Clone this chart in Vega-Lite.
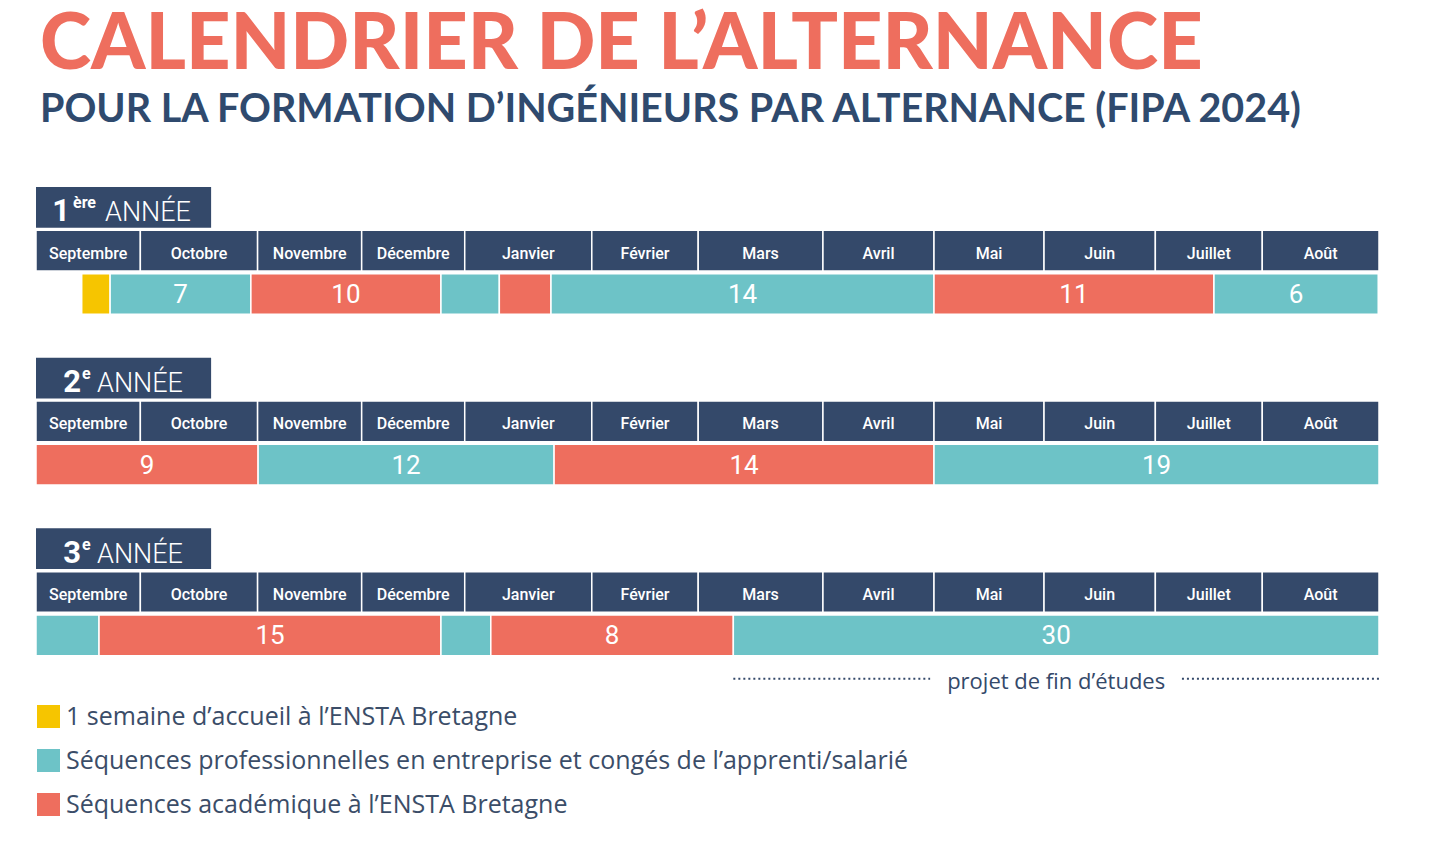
{
  "$schema": "https://vega.github.io/schema/vega-lite/v6.json",
  "autosize": {"type": "none"},
  "width": 1343,
  "height": 512,
  "padding": {"left": 36, "top": 187, "right": 60, "bottom": 142},
  "background": "white",
  "title": {
    "text": "CALENDRIER DE L’ALTERNANCE",
    "subtitle": "POUR LA FORMATION D’INGÉNIEURS PAR ALTERNANCE (FIPA 2024)",
    "anchor": "start",
    "frame": "group",
    "dx": 4,
    "offset": 57,
    "font": "Lato",
    "fontSize": 77.5,
    "fontWeight": 900,
    "color": "#ee6e5e",
    "subtitleFont": "Lato",
    "subtitleFontSize": 39.5,
    "subtitleFontWeight": 700,
    "subtitleColor": "#2f4a6e",
    "subtitlePadding": 5
  },
  "config": {
    "view": {"stroke": null},
    "legend": {
      "orient": "none",
      "legendX": 0,
      "legendY": 517,
      "title": null,
      "padding": 0,
      "symbolType": "square",
      "symbolSize": 529,
      "symbolStrokeWidth": 0,
      "symbolOpacity": 1,
      "labelFont": "Open Sans",
      "labelFontSize": 25,
      "labelColor": "#3b4d68",
      "labelOffset": 5,
      "labelLimit": 0,
      "rowPadding": 18
    }
  },
  "datasets": {
    "annees": [
      {"annee": "1", "partie": "titre", "num": "1", "sup": "ère", "libelle": "ANNÉE"},
      {"annee": "2", "partie": "titre", "num": "2", "sup": "e", "libelle": "ANNÉE"},
      {"annee": "3", "partie": "titre", "num": "3", "sup": "e", "libelle": "ANNÉE"}
    ],
    "mois": [
      {"annee": "1", "partie": "mois", "mois": "Septembre", "debut": 0, "fin": 4.04},
      {"annee": "1", "partie": "mois", "mois": "Octobre", "debut": 4.04, "fin": 8.58},
      {"annee": "1", "partie": "mois", "mois": "Novembre", "debut": 8.58, "fin": 12.61},
      {"annee": "1", "partie": "mois", "mois": "Décembre", "debut": 12.61, "fin": 16.6},
      {"annee": "1", "partie": "mois", "mois": "Janvier", "debut": 16.6, "fin": 21.52},
      {"annee": "1", "partie": "mois", "mois": "Février", "debut": 21.52, "fin": 25.64},
      {"annee": "1", "partie": "mois", "mois": "Mars", "debut": 25.64, "fin": 30.47},
      {"annee": "1", "partie": "mois", "mois": "Avril", "debut": 30.47, "fin": 34.77},
      {"annee": "1", "partie": "mois", "mois": "Mai", "debut": 34.77, "fin": 39.03},
      {"annee": "1", "partie": "mois", "mois": "Juin", "debut": 39.03, "fin": 43.34},
      {"annee": "1", "partie": "mois", "mois": "Juillet", "debut": 43.34, "fin": 47.48},
      {"annee": "1", "partie": "mois", "mois": "Août", "debut": 47.48, "fin": 52},
      {"annee": "2", "partie": "mois", "mois": "Septembre", "debut": 0, "fin": 4.04},
      {"annee": "2", "partie": "mois", "mois": "Octobre", "debut": 4.04, "fin": 8.58},
      {"annee": "2", "partie": "mois", "mois": "Novembre", "debut": 8.58, "fin": 12.61},
      {"annee": "2", "partie": "mois", "mois": "Décembre", "debut": 12.61, "fin": 16.6},
      {"annee": "2", "partie": "mois", "mois": "Janvier", "debut": 16.6, "fin": 21.52},
      {"annee": "2", "partie": "mois", "mois": "Février", "debut": 21.52, "fin": 25.64},
      {"annee": "2", "partie": "mois", "mois": "Mars", "debut": 25.64, "fin": 30.47},
      {"annee": "2", "partie": "mois", "mois": "Avril", "debut": 30.47, "fin": 34.77},
      {"annee": "2", "partie": "mois", "mois": "Mai", "debut": 34.77, "fin": 39.03},
      {"annee": "2", "partie": "mois", "mois": "Juin", "debut": 39.03, "fin": 43.34},
      {"annee": "2", "partie": "mois", "mois": "Juillet", "debut": 43.34, "fin": 47.48},
      {"annee": "2", "partie": "mois", "mois": "Août", "debut": 47.48, "fin": 52},
      {"annee": "3", "partie": "mois", "mois": "Septembre", "debut": 0, "fin": 4.04},
      {"annee": "3", "partie": "mois", "mois": "Octobre", "debut": 4.04, "fin": 8.58},
      {"annee": "3", "partie": "mois", "mois": "Novembre", "debut": 8.58, "fin": 12.61},
      {"annee": "3", "partie": "mois", "mois": "Décembre", "debut": 12.61, "fin": 16.6},
      {"annee": "3", "partie": "mois", "mois": "Janvier", "debut": 16.6, "fin": 21.52},
      {"annee": "3", "partie": "mois", "mois": "Février", "debut": 21.52, "fin": 25.64},
      {"annee": "3", "partie": "mois", "mois": "Mars", "debut": 25.64, "fin": 30.47},
      {"annee": "3", "partie": "mois", "mois": "Avril", "debut": 30.47, "fin": 34.77},
      {"annee": "3", "partie": "mois", "mois": "Mai", "debut": 34.77, "fin": 39.03},
      {"annee": "3", "partie": "mois", "mois": "Juin", "debut": 39.03, "fin": 43.34},
      {"annee": "3", "partie": "mois", "mois": "Juillet", "debut": 43.34, "fin": 47.48},
      {"annee": "3", "partie": "mois", "mois": "Août", "debut": 47.48, "fin": 52}
    ],
    "segments": [
      {"annee": "1", "partie": "barres", "sequence": "1 semaine d’accueil à l’ENSTA Bretagne", "debut": 1.77, "fin": 2.87, "semaines": ""},
      {"annee": "1", "partie": "barres", "sequence": "Séquences professionnelles en entreprise et congés de l’apprenti/salarié", "debut": 2.87, "fin": 8.32, "semaines": "7"},
      {"annee": "1", "partie": "barres", "sequence": "Séquences académique à l’ENSTA Bretagne", "debut": 8.32, "fin": 15.68, "semaines": "10"},
      {"annee": "1", "partie": "barres", "sequence": "Séquences professionnelles en entreprise et congés de l’apprenti/salarié", "debut": 15.68, "fin": 17.94, "semaines": ""},
      {"annee": "1", "partie": "barres", "sequence": "Séquences académique à l’ENSTA Bretagne", "debut": 17.94, "fin": 19.94, "semaines": ""},
      {"annee": "1", "partie": "barres", "sequence": "Séquences professionnelles en entreprise et congés de l’apprenti/salarié", "debut": 19.94, "fin": 34.77, "semaines": "14"},
      {"annee": "1", "partie": "barres", "sequence": "Séquences académique à l’ENSTA Bretagne", "debut": 34.77, "fin": 45.61, "semaines": "11"},
      {"annee": "1", "partie": "barres", "sequence": "Séquences professionnelles en entreprise et congés de l’apprenti/salarié", "debut": 45.61, "fin": 51.97, "semaines": "6"},
      {"annee": "2", "partie": "barres", "sequence": "Séquences académique à l’ENSTA Bretagne", "debut": 0, "fin": 8.6, "semaines": "9"},
      {"annee": "2", "partie": "barres", "sequence": "Séquences professionnelles en entreprise et congés de l’apprenti/salarié", "debut": 8.6, "fin": 20.06, "semaines": "12"},
      {"annee": "2", "partie": "barres", "sequence": "Séquences académique à l’ENSTA Bretagne", "debut": 20.06, "fin": 34.77, "semaines": "14"},
      {"annee": "2", "partie": "barres", "sequence": "Séquences professionnelles en entreprise et congés de l’apprenti/salarié", "debut": 34.77, "fin": 52, "semaines": "19"},
      {"annee": "3", "partie": "barres", "sequence": "Séquences professionnelles en entreprise et congés de l’apprenti/salarié", "debut": 0, "fin": 2.44, "semaines": ""},
      {"annee": "3", "partie": "barres", "sequence": "Séquences académique à l’ENSTA Bretagne", "debut": 2.44, "fin": 15.68, "semaines": "15"},
      {"annee": "3", "partie": "barres", "sequence": "Séquences professionnelles en entreprise et congés de l’apprenti/salarié", "debut": 15.68, "fin": 17.61, "semaines": ""},
      {"annee": "3", "partie": "barres", "sequence": "Séquences académique à l’ENSTA Bretagne", "debut": 17.61, "fin": 27.0, "semaines": "8"},
      {"annee": "3", "partie": "barres", "sequence": "Séquences professionnelles en entreprise et congés de l’apprenti/salarié", "debut": 27.0, "fin": 52, "semaines": "30"}
    ],
    "pfe": [
      {"annee": "3", "partie": "projet", "libelle": "projet de fin d’études", "debut": 27.0, "fin": 52}
    ],
    "pointilles": [
      {"annee": "3", "partie": "projet", "debut": 27.0, "fin": 34.62},
      {"annee": "3", "partie": "projet", "debut": 44.37, "fin": 52.04}
    ]
  },
  "layer": [
    {
      "data": {"name": "annees"},
      "mark": {"type": "bar", "color": "#34496a"},
      "encoding": {
        "x": {"datum": 0, "type": "quantitative", "scale": {"domain": [0, 52], "nice": false, "zero": false}, "axis": null},
        "x2": {"datum": 6.78},
        "y": {"field": "annee", "type": "nominal", "scale": {"type": "band", "domain": ["1", "2", "3"], "paddingInner": 0, "paddingOuter": 0}, "axis": null},
        "yOffset": {"field": "partie", "type": "nominal", "scale": {"type": "band", "domain": ["titre", "mois", "barres", "projet"], "paddingInner": 0.06, "paddingOuter": 0}}
      }
    },
    {
      "data": {"name": "annees"},
      "transform": [{"filter": "datum.annee == '1'"}],
      "layer": [
        {
          "mark": {"type": "text", "align": "right", "baseline": "alphabetic", "dx": 34, "dy": 14, "font": "Roboto", "fontSize": 31, "fontWeight": 700, "color": "white"},
          "encoding": {"text": {"field": "num"}}
        },
        {
          "mark": {"type": "text", "align": "left", "baseline": "alphabetic", "dx": 37, "dy": 1, "font": "Roboto", "fontSize": 16, "fontWeight": 700, "color": "white"},
          "encoding": {"text": {"field": "sup"}}
        },
        {
          "mark": {"type": "text", "align": "left", "baseline": "alphabetic", "dx": 69, "dy": 14, "font": "Roboto", "fontSize": 27, "fontWeight": 300, "color": "white"},
          "encoding": {"text": {"field": "libelle"}}
        }
      ],
      "encoding": {
        "x": {"datum": 0, "type": "quantitative", "axis": null},
        "y": {"field": "annee", "type": "nominal", "axis": null},
        "yOffset": {"field": "partie", "type": "nominal"}
      }
    },
    {
      "data": {"name": "annees"},
      "transform": [{"filter": "datum.annee != '1'"}],
      "layer": [
        {
          "mark": {"type": "text", "align": "right", "baseline": "alphabetic", "dx": 45, "dy": 14, "font": "Roboto", "fontSize": 31, "fontWeight": 700, "color": "white"},
          "encoding": {"text": {"field": "num"}}
        },
        {
          "mark": {"type": "text", "align": "left", "baseline": "alphabetic", "dx": 46, "dy": 1, "font": "Roboto", "fontSize": 16, "fontWeight": 700, "color": "white"},
          "encoding": {"text": {"field": "sup"}}
        },
        {
          "mark": {"type": "text", "align": "left", "baseline": "alphabetic", "dx": 61, "dy": 14, "font": "Roboto", "fontSize": 27, "fontWeight": 300, "color": "white"},
          "encoding": {"text": {"field": "libelle"}}
        }
      ],
      "encoding": {
        "x": {"datum": 0, "type": "quantitative", "axis": null},
        "y": {"field": "annee", "type": "nominal", "axis": null},
        "yOffset": {"field": "partie", "type": "nominal"}
      }
    },
    {
      "data": {"name": "mois"},
      "mark": {"type": "bar", "color": "#34496a", "stroke": "white", "strokeWidth": 1.5},
      "encoding": {
        "x": {"field": "debut", "type": "quantitative", "axis": null},
        "x2": {"field": "fin"},
        "y": {"field": "annee", "type": "nominal", "axis": null},
        "yOffset": {"field": "partie", "type": "nominal"}
      }
    },
    {
      "data": {"name": "mois"},
      "transform": [{"fold": ["debut", "fin"], "as": ["borne", "position"]}],
      "mark": {"type": "text", "align": "center", "baseline": "middle", "dy": 3, "font": "Roboto", "fontSize": 16, "fontWeight": 500, "color": "white"},
      "encoding": {
        "x": {"aggregate": "mean", "field": "position", "type": "quantitative", "axis": null},
        "y": {"field": "annee", "type": "nominal", "axis": null},
        "yOffset": {"field": "partie", "type": "nominal"},
        "text": {"field": "mois", "type": "nominal"}
      }
    },
    {
      "data": {"name": "segments"},
      "mark": {"type": "bar", "stroke": "white", "strokeWidth": 1.5, "opacity": 1},
      "encoding": {
        "x": {"field": "debut", "type": "quantitative", "axis": null},
        "x2": {"field": "fin"},
        "y": {"field": "annee", "type": "nominal", "axis": null},
        "yOffset": {"field": "partie", "type": "nominal"},
        "color": {
          "field": "sequence",
          "type": "nominal",
          "scale": {
            "domain": ["1 semaine d’accueil à l’ENSTA Bretagne", "Séquences professionnelles en entreprise et congés de l’apprenti/salarié", "Séquences académique à l’ENSTA Bretagne"],
            "range": ["#f6c500", "#6dc3c7", "#ee6e5e"]
          },
          "legend": {"title": null}
        }
      }
    },
    {
      "data": {"name": "segments"},
      "transform": [
        {"filter": "datum.semaines != ''"},
        {"fold": ["debut", "fin"], "as": ["borne", "position"]}
      ],
      "mark": {"type": "text", "align": "center", "baseline": "middle", "dy": 1, "font": "Roboto", "fontSize": 26, "fontWeight": 400, "color": "white"},
      "encoding": {
        "x": {"aggregate": "mean", "field": "position", "type": "quantitative", "axis": null},
        "y": {"field": "annee", "type": "nominal", "axis": null},
        "yOffset": {"field": "partie", "type": "nominal"},
        "detail": {"field": "debut", "type": "quantitative"},
        "text": {"field": "semaines", "type": "nominal"}
      }
    },
    {
      "data": {"name": "pointilles"},
      "mark": {"type": "rule", "color": "#34496a", "strokeWidth": 2, "strokeDash": [2, 3], "yOffset": 5},
      "encoding": {
        "x": {"field": "debut", "type": "quantitative", "axis": null},
        "x2": {"field": "fin"},
        "y": {"field": "annee", "type": "nominal", "axis": null},
        "yOffset": {"field": "partie", "type": "nominal"}
      }
    },
    {
      "data": {"name": "pfe"},
      "transform": [{"fold": ["debut", "fin"], "as": ["borne", "position"]}],
      "mark": {"type": "text", "align": "center", "baseline": "middle", "dy": 3, "font": "Open Sans", "fontSize": 22, "color": "#34496a"},
      "encoding": {
        "x": {"aggregate": "mean", "field": "position", "type": "quantitative", "axis": null},
        "y": {"field": "annee", "type": "nominal", "axis": null},
        "yOffset": {"field": "partie", "type": "nominal"},
        "text": {"field": "libelle", "type": "nominal"}
      }
    }
  ]
}
